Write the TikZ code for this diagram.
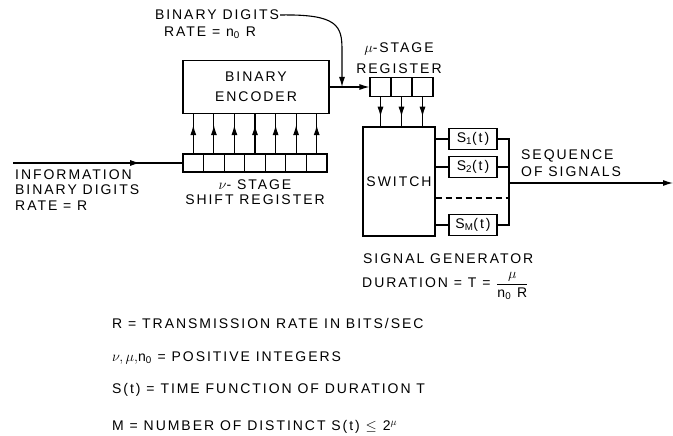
\documentclass[tikz,border=0pt]{standalone}
\usepackage{fontspec}
\setmainfont{Liberation Sans}[LetterSpace=14]
\usetikzlibrary{calc,arrows.meta,decorations.markings}
\tikzstyle{blk}=[draw, line width=1.1pt, inner sep=0, align=center]
\tikzstyle{cell}=[draw, line width=1.1pt, inner sep=0, minimum width=20.6pt, minimum height=18pt]
\tikzstyle{mcell}=[cell, minimum width=21pt, minimum height=19pt]
\tikzstyle{sbox}=[draw, line width=1.1pt, inner sep=0, minimum width=48pt, minimum height=21pt]
\tikzstyle{lbl}=[inner sep=1pt, font=\fontsize{14}{15}\selectfont]
\tikzstyle{wire}=[line width=1.1pt]
\tikzstyle{tip}=[-{Latex[length=10pt,width=6pt]}]
\tikzset{midarrow/.style={postaction={decorate}, decoration={markings, mark=at position #1 with {\arrow{Latex[length=10pt,width=6pt]}}}}}

\begin{document}
\begin{tikzpicture}[x=1pt, y=-1pt]
\useasboundingbox (0,0) rectangle (673,436);
\node at (256,87) [blk, lbl, minimum width=146pt, minimum height=53pt, font=\fontsize{14}{20}\selectfont](enc){BINARY\\ENCODER};
\node at (193.3,163) [cell](c1){};
\node at (213.9,163) [cell](c2){};
\node at (234.4,163) [cell](c3){};
\node at (255.0,163) [cell](c4){};
\node at (275.6,163) [cell](c5){};
\node at (296.1,163) [cell](c6){};
\node at (316.7,163) [cell](c7){};
\draw[wire, midarrow=.72] (c1.north) -- (c1 |- enc.south);
\draw[wire, midarrow=.72] (c2.north) -- (c2 |- enc.south);
\draw[wire, midarrow=.72] (c3.north) -- (c3 |- enc.south);
\draw[wire, midarrow=.72] (c4.north) -- (c4 |- enc.south);
\draw[wire, midarrow=.72] (c5.north) -- (c5 |- enc.south);
\draw[wire, midarrow=.72] (c6.north) -- (c6 |- enc.south);
\draw[wire, midarrow=.72] (c7.north) -- (c7 |- enc.south);
\coordinate (in) at (13,163);
\draw[wire, midarrow=.75] (in) -- (c1.west);
\node at (14,190) [lbl, anchor=west, align=left, font=\fontsize{14}{15.5}\selectfont](info){INFORMATION\\BINARY DIGITS\\RATE = R};
\node at (255,192.5) [lbl, align=center](sreg){$\nu$- STAGE\\SHIFT REGISTER};
\node at (217,15) [lbl](bdig){BINARY DIGITS};
\node at (210,33) [lbl](brate){RATE = n\textsubscript{0} R};
\node at (380.5,87) [mcell](m1){};
\node at (401.5,87) [mcell](m2){};
\node at (422.5,87) [mcell](m3){};
\node at (399,58.5) [lbl, align=center, font=\fontsize{14}{21}\selectfont](mreg){$\mu$-STAGE\\REGISTER};
\coordinate (jn) at (342,87);
\draw[wire, tip] (enc.east) -- (m1.west);
\draw[wire, tip] (bdig.east) .. controls (338,14) and (342,26) .. (342,50) -- (jn);
\node at (399,181.5) [blk, lbl, minimum width=72pt, minimum height=109pt](sw){SWITCH};
\draw[wire, midarrow=.67] (m1.south) -- (m1 |- sw.north);
\draw[wire, midarrow=.67] (m2.south) -- (m2 |- sw.north);
\draw[wire, midarrow=.67] (m3.south) -- (m3 |- sw.north);
\node at (473,139) [sbox, lbl](s1){S\textsubscript{1}(t)};
\node at (473,167) [sbox, lbl](s2){S\textsubscript{2}(t)};
\node at (473,225) [sbox, lbl](sm){S\textsubscript{M}(t)};
\draw[wire] (s1.west -| sw.east) -- (s1.west);
\draw[wire] (s2.west -| sw.east) -- (s2.west);
\draw[wire] (sm.west -| sw.east) -- (sm.west);
\coordinate (bt) at (509,139);
\coordinate (bb) at (509,225);
\coordinate (dl) at (509,198);
\coordinate (ob) at (509,183);
\coordinate (out) at (673,183);
\draw[wire] (s1.east) -- (bt) -- (bb) -- (sm.east);
\draw[wire] (s2.east) -- (s2.east -| bt);
\draw[wire, dash pattern=on 6pt off 4pt] (dl -| sw.east) -- (dl);
\draw[wire, tip] (ob) -- (out);
\node at (520,163.5) [lbl, anchor=west, align=left, font=\fontsize{14}{17}\selectfont](seq){SEQUENCE\\OF SIGNALS};
\node at (362,259) [lbl, anchor=west](sgen){SIGNAL GENERATOR};
\node at (362,286) [lbl, anchor=west, inner sep=0](dur){DURATION = T = $\displaystyle\frac{\mu}{\mbox{n\textsubscript{0} R}}$};
\node at (111,323) [lbl, anchor=west](l1){R = TRANSMISSION RATE IN BITS/SEC};
\node at (111,358) [lbl, anchor=west](l2){$\nu,\mu,$n\textsubscript{0} = POSITIVE INTEGERS};
\node at (111,390) [lbl, anchor=west](l3){S(t) = TIME FUNCTION OF DURATION T};
\node at (111,427) [lbl, anchor=west](l4){M = NUMBER OF DISTINCT S(t) $\leq$ 2$^{\mu}$};
\end{tikzpicture}
\end{document}
